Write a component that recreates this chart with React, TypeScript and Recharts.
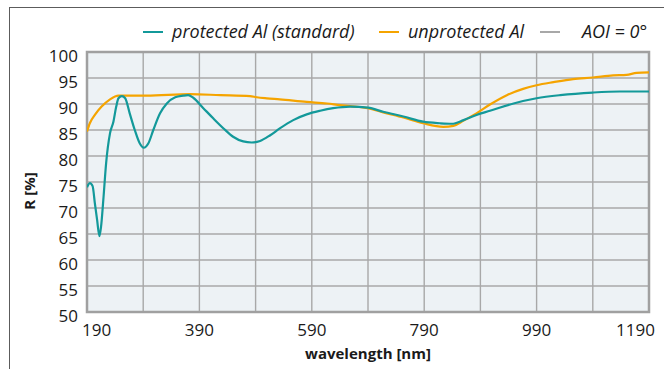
import React from 'react';
import {
  LineChart,
  Line,
  XAxis,
  YAxis,
  CartesianGrid,
  ReferenceArea,
  Legend,
  Label,
} from 'recharts';

// wavelength [nm] / reflectance [%]
const protectedNm = [
  190, 195, 200, 204, 208, 212, 215, 219, 224, 231, 237, 242, 246, 252, 258, 266, 275, 284, 291, 299,
  308, 320, 332, 347, 361, 370, 379, 397, 415, 433, 450, 468, 483, 498, 516, 533, 557, 581, 605, 628,
  658, 690, 717, 753, 788, 818, 839, 860, 883, 907, 949, 990, 1032, 1090, 1138, 1190,
];
const protectedR = [
  74.0, 74.8, 74.2, 70.9, 67.7, 64.6, 66.4, 71.5, 78.6, 84.4, 86.6, 89.5, 91.1, 91.5, 91.1, 88.2, 85.0, 82.4, 81.6, 82.4,
  85.0, 88.2, 90.1, 91.3, 91.6, 91.7, 91.2, 89.2, 87.2, 85.3, 83.7, 82.8, 82.6, 82.9, 84.0, 85.3, 86.9, 88.0, 88.7, 89.2,
  89.5, 89.3, 88.5, 87.6, 86.6, 86.3, 86.2, 86.9, 87.9, 88.7, 90.1, 91.1, 91.7, 92.2, 92.4, 92.4,
];

const unprotectedNm = [
  190, 195, 204, 216, 231, 246, 296, 373, 427, 480, 492, 510, 533, 581, 617, 640, 658, 690, 717, 753,
  788, 824, 842, 860, 883, 907, 937, 966, 990, 1020, 1055, 1090, 1126, 1150, 1168, 1190,
];
const unprotectedR = [
  84.7, 86.3, 87.9, 89.5, 90.9, 91.6, 91.6, 91.9, 91.7, 91.5, 91.3, 91.1, 90.9, 90.4, 90.1, 89.8, 89.6, 89.2, 88.4, 87.4,
  86.3, 85.6, 85.8, 86.8, 88.2, 89.9, 91.7, 92.9, 93.6, 94.2, 94.8, 95.1, 95.5, 95.6, 96.0, 96.1,
];

const xTicks = [190, 290, 390, 490, 590, 690, 790, 890, 990, 1090, 1190];
const xLabels = [190, 390, 590, 790, 990, 1190];
const yTicks = [50, 55, 60, 65, 70, 75, 80, 85, 90, 95, 100];

const legendLabels = ['protected Al (standard)', 'unprotected Al', 'AOI = 0°'];

const TEAL = '#13999a';
const ORANGE = '#f5a400';
const GREY = '#a8a8a8';
const FONT = '"Open Sans", sans-serif';

const legendColors = [TEAL, ORANGE, GREY];

const protectedData = protectedNm.map((nm, i) => ({ nm, r: protectedR[i] }));
const unprotectedData = unprotectedNm.map((nm, i) => ({ nm, r: unprotectedR[i] }));

const XTick = (props: any) => {
  const { x, y, payload } = props;
  if (!xLabels.includes(payload.value)) return null;
  let anchor = 'middle';
  let dx = 0;
  if (payload.value === xLabels[0]) {
    anchor = 'start';
    dx = -5;
  } else if (payload.value === xLabels[xLabels.length - 1]) {
    anchor = 'end';
    dx = 6;
  }
  return (
    <text x={x + dx} y={y + 24} textAnchor={anchor} fontSize={17} fontFamily={FONT} fill="#1a1a1a">
      {payload.value}
    </text>
  );
};

const YTick = (props: any) => {
  const { x, y, payload } = props;
  return (
    <text x={x} y={y + 9.5} textAnchor="end" fontSize={17} fontFamily={FONT} fill="#1a1a1a">
      {payload.value}
    </text>
  );
};

const LegendBox = () => {
  const lineX = [143, 379, 540];
  const textX = [172, 408, 582];
  return (
    <svg width={664} height={50}>
      {legendLabels.map((label, i) => (
        <g key={label}>
          <line x1={lineX[i]} x2={lineX[i] + 20} y1={32} y2={32} stroke={legendColors[i]} strokeWidth={2} />
          <text x={textX[i]} y={38} fontSize={18} fontStyle="italic" fontFamily={FONT} fill="#1a1a1a">
            {label}
          </text>
        </g>
      ))}
    </svg>
  );
};

export default function App() {
  return (
    <div style={{ position: 'absolute', left: 0, top: 0, width: 664, height: 369, background: '#fff' }}>
      <div
        style={{
          position: 'absolute',
          left: 9,
          top: 7,
          width: 655,
          height: 362,
          borderLeft: '1px solid #5c5c5c',
          borderTop: '1px solid #5c5c5c',
          boxSizing: 'border-box',
        }}
      />
      <LineChart width={664} height={369} margin={{ top: 52, right: 15, left: 0, bottom: 0 }}>
        <CartesianGrid fill="#edf2f5" stroke={GREY} strokeWidth={1.4} />
        <XAxis
          dataKey="nm"
          type="number"
          domain={[190, 1190]}
          ticks={xTicks}
          interval={0}
          allowDataOverflow
          height={57}
          axisLine={false}
          tickLine={false}
          tickSize={0}
          tickMargin={0}
          tick={<XTick />}
        >
          <Label
            content={(p: any) => (
              <text
                x={p.viewBox.x + p.viewBox.width / 2}
                y={p.viewBox.y + 47}
                textAnchor="middle"
                fontSize={15}
                fontWeight="bold"
                fontFamily={FONT}
                fill="#1a1a1a"
              >
                wavelength [nm]
              </text>
            )}
          />
        </XAxis>
        <YAxis
          type="number"
          domain={[50, 100]}
          ticks={yTicks}
          interval={0}
          allowDataOverflow
          width={87}
          axisLine={false}
          tickLine={false}
          tickSize={0}
          tickMargin={9}
          tick={<YTick />}
        >
          <Label
            content={(p: any) => {
              const cx = 30;
              const cy = p.viewBox.y + p.viewBox.height / 2 + 9;
              return (
                <text
                  x={cx}
                  y={cy}
                  dy={5}
                  transform={`rotate(-90 ${cx} ${cy})`}
                  textAnchor="middle"
                  fontSize={15}
                  fontWeight="bold"
                  fontFamily={FONT}
                  fill="#1a1a1a"
                >
                  R [%]
                </text>
              );
            }}
          />
        </YAxis>
        <ReferenceArea
          x1={190}
          x2={1190}
          y1={50}
          y2={100}
          fill="none"
          stroke="#a0a0a0"
          strokeWidth={2.5}
          ifOverflow="visible"
        />
        <Line
          data={unprotectedData}
          dataKey="r"
          type="monotone"
          stroke={ORANGE}
          strokeWidth={2.2}
          dot={false}
          isAnimationActive={false}
        />
        <Line
          data={protectedData}
          dataKey="r"
          type="monotone"
          stroke={TEAL}
          strokeWidth={2.2}
          dot={false}
          isAnimationActive={false}
        />
        <Legend
          layout="horizontal"
          verticalAlign="middle"
          align="center"
          wrapperStyle={{ top: 0, left: 0, width: 664, height: 50 }}
          content={<LegendBox />}
        />
      </LineChart>
    </div>
  );
}
